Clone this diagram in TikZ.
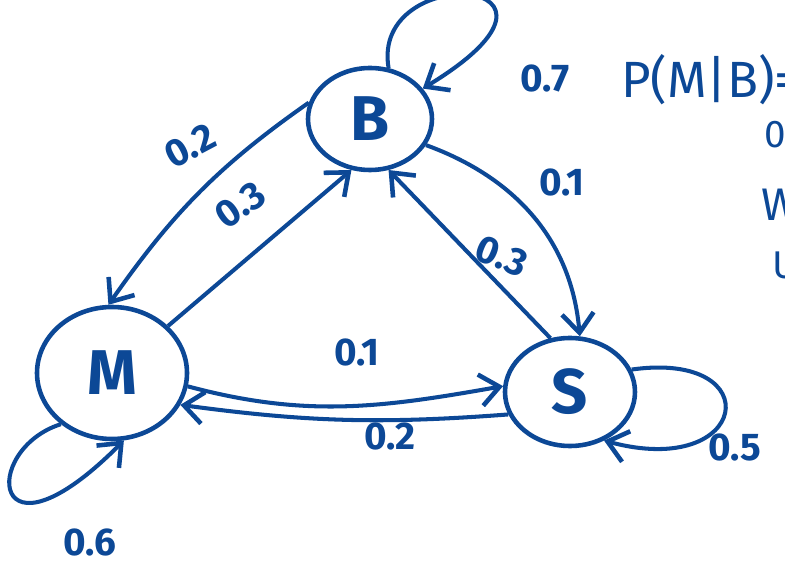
\documentclass[tikz,border=0pt]{standalone}
\usepackage{fontspec}
\setmainfont{Fira Sans}
\usepackage{tikz}
\usetikzlibrary{positioning}
\usetikzlibrary{arrows.meta}
\usetikzlibrary{shapes.geometric}
\definecolor{ink}{RGB}{12,72,150}

\tikzset{
    state/.style={draw=ink, ellipse, line width=2.6pt, text=ink, font=\fontsize{36}{36}\selectfont\bfseries, inner sep=0pt},
    trans/.style={draw=ink, line width=2.3pt, -{Straight Barb[length=11pt, width=18pt, line width=2.6pt]}},
    prob/.style={text=ink, font=\fontsize{22}{22}\selectfont\bfseries, inner sep=1pt}
}

\begin{document}
\begin{tikzpicture}[x=0.02cm, y=-0.02cm]
    \useasboundingbox (0,0) rectangle (785,567);

    % States
    \node[state, minimum width=124*0.02cm, minimum height=102*0.02cm] (B) at (370,119) {B};
    \node[state, minimum width=150*0.02cm, minimum height=132*0.02cm] (M) at (112,373) {M};
    \node[state, minimum width=130*0.02cm, minimum height=108*0.02cm] (S) at (570,392) {S};

    % Transitions
    \draw[trans] (B.165) to[out=215, in=55] (M.93);
    \draw[trans] (M.40) -- (B.250);
    \draw[trans] (B.-25) to[out=-20, in=95] (S.80);
    \draw[trans] (S.110) -- (B.290);
    \draw[trans] (M.-10) to[out=-15, in=190] (S.175);
    \draw[trans] (S.200) to[bend left=6] (M.-25);

    % Self loops
    \draw[trans] (B.70) .. controls (370,-40) and (610,-25) .. (B.30);
    \draw[trans] (M.225) .. controls (-20,450) and (-10,575) .. (M.-80);
    \draw[trans] (S.20) .. controls (770,350) and (750,480) .. (S.-55);

    % Probabilities
    \node[prob, rotate=28] (lBM) at (190,146) {0.2};
    \node[prob, rotate=35] (lMB) at (240,205) {0.3};
    \node[prob] (lBS) at (562,182) {0.1};
    \node[prob, rotate=-22] (lSB) at (502,256) {0.3};
    \node[prob] (lMS) at (357,352) {0.1};
    \node[prob] (lSM) at (390,436) {0.2};
    \node[prob] (lBB) at (545,78) {0.7};
    \node[prob] (lMM) at (90,542) {0.6};
    \node[prob] (lSS) at (735,447) {0.5};

    % Notes cut off at the edge
    \node[text=ink, anchor=west, font=\fontsize{29}{29}\selectfont] (note) at (615,80) {P(M|B)=};
    \node[text=ink, font=\fontsize{22}{22}\selectfont] (noteA) at (775,135) {0};
    \node[text=ink, font=\fontsize{26}{26}\selectfont] (noteB) at (780,205) {W};
    \node[text=ink, font=\fontsize{22}{22}\selectfont] (noteC) at (785,265) {U};
\end{tikzpicture}
\end{document}
